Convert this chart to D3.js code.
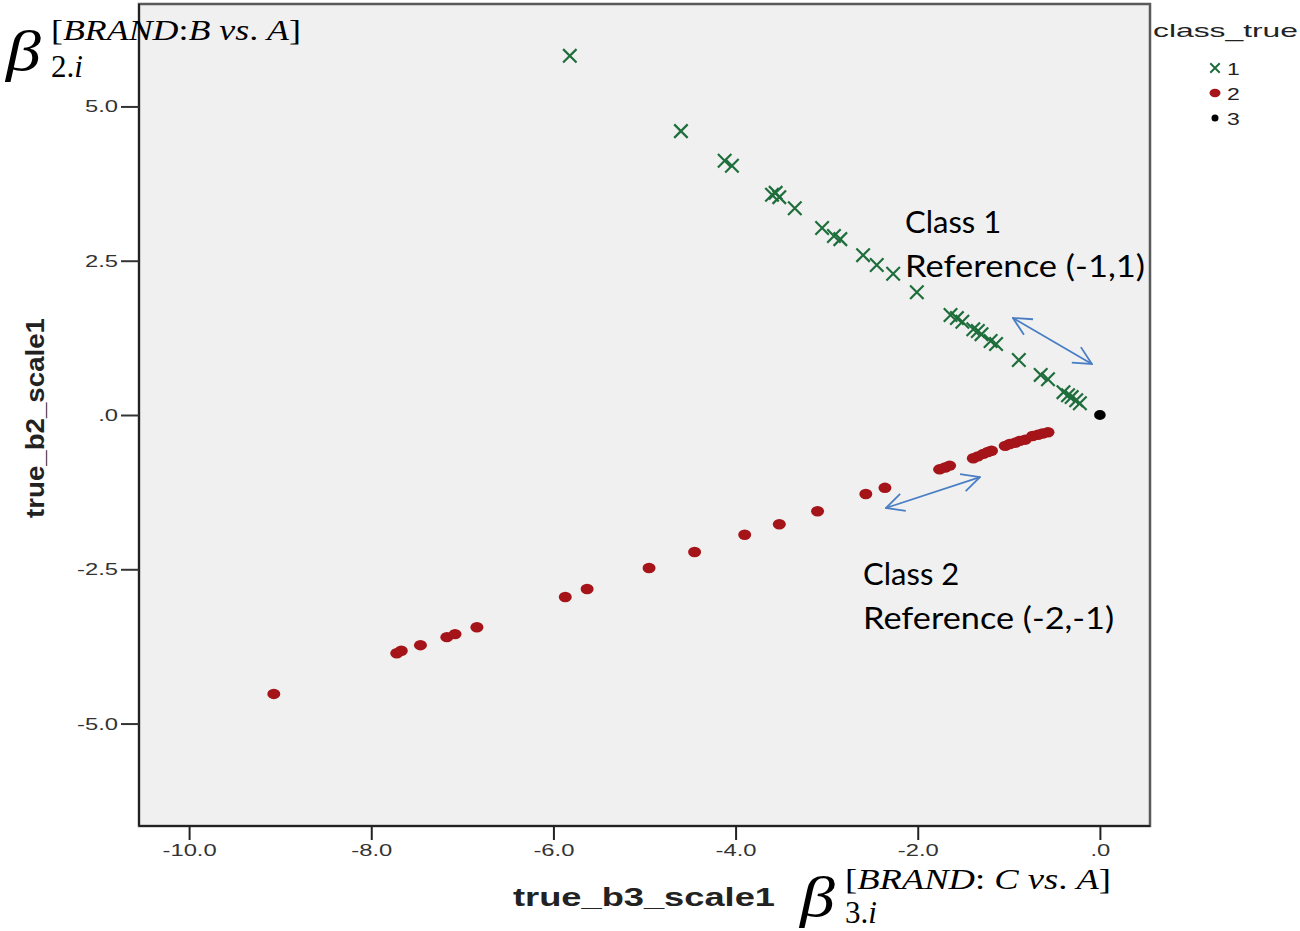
<!DOCTYPE html>
<html>
<head>
<meta charset="utf-8">
<script src="https://cdn.jsdelivr.net/npm/d3@7"></script>
<style>
  body { margin: 0; background: #fff; }
  svg { display: block; }
  .tick text { font-family: 'Liberation Sans', Arial, sans-serif; fill: #333; }
  .note { font-family: Lato, 'Open Sans', sans-serif; fill: #000; }
  .math { font-family: 'Liberation Serif', serif; fill: #000; }
</style>
</head>
<body>
<svg id="chart" width="1300" height="931"></svg>
<script>
// class 1 (green crosses)
const class1B3 = [-5.82, -4.60, -4.12, -4.04, -3.60, -3.56, -3.52, -3.35, -3.05, -2.92, -2.85,
  -2.60, -2.45, -2.27, -2.01, -1.64, -1.57, -1.51, -1.39, -1.34, -1.30, -1.20, -1.14,
  -0.89, -0.65, -0.57, -0.40, -0.35, -0.31, -0.26, -0.22];
const class1B2 = [5.82, 4.60, 4.12, 4.04, 3.57, 3.60, 3.53, 3.35, 3.03, 2.90, 2.85,
  2.59, 2.43, 2.29, 1.99, 1.62, 1.57, 1.51, 1.39, 1.36, 1.31, 1.20, 1.15,
  0.89, 0.65, 0.58, 0.37, 0.32, 0.29, 0.24, 0.19];

// class 2 (red dots)
const class2B3 = [-9.07, -7.72, -7.67, -7.46, -7.17, -7.08, -6.84, -5.87, -5.63, -4.95, -4.45,
  -3.90, -3.52, -3.10, -2.57, -2.36, -1.76, -1.70, -1.65, -1.39, -1.34, -1.28, -1.23, -1.19,
  -1.04, -0.99, -0.93, -0.88, -0.82, -0.74, -0.68, -0.63, -0.57];
const class2B2 = [-4.52, -3.86, -3.82, -3.73, -3.60, -3.55, -3.44, -2.95, -2.82, -2.48, -2.22,
  -1.94, -1.77, -1.56, -1.28, -1.18, -0.88, -0.85, -0.82, -0.70, -0.67, -0.63, -0.60, -0.58,
  -0.50, -0.47, -0.45, -0.42, -0.40, -0.34, -0.32, -0.30, -0.28];

// class 3 (black dot)
const class3B3 = [0];
const class3B2 = [0];

const xTicks = [-10, -8, -6, -4, -2, 0];
const yTicks = [-5, -2.5, 0, 2.5, 5];
const legendLabels = ['1', '2', '3'];

const svg = d3.select('#chart');
const margin = { top: 4, right: 150, bottom: 105, left: 139 };
const W = 1300, H = 931;
const width = W - margin.left - margin.right;
const height = H - margin.top - margin.bottom;

const x = d3.scaleLinear().domain([-10.55, 0.55]).range([0, width]);
const y = d3.scaleLinear().domain([-6.66, 6.66]).range([height, 0]);

const g = svg.append('g').attr('transform', `translate(${margin.left},${margin.top})`);

// plot frame
g.append('rect')
  .attr('width', width).attr('height', height)
  .attr('fill', '#f0f0f0')
  .attr('stroke', '#5a5a5a').attr('stroke-width', 2.5);
g.append('line').attr('x1', 0).attr('x2', 0).attr('y1', 0).attr('y2', height)
  .attr('stroke', '#222').attr('stroke-width', 2);
g.append('line').attr('x1', 0).attr('x2', width).attr('y1', height).attr('y2', height)
  .attr('stroke', '#222').attr('stroke-width', 2);

// stretch text horizontally around its anchor (SPSS wide text look)
function stretch(sel, sx) {
  sel.each(function() {
    const t = d3.select(this);
    const tx = +t.attr('x') || 0;
    t.attr('x', 0).attr('transform', `translate(${tx},0) scale(${sx},1)`);
  });
}

// SPSS style: ".0", "-2.5", plain hyphen
const fmt = d => d === 0 ? '.0' : d3.format('.1f')(d).replace('\u2212', '-');

const axisX = d3.axisBottom(x).tickValues(xTicks).tickFormat(fmt).tickSize(14).tickPadding(4);
const gx = g.append('g').attr('transform', `translate(0,${height})`).call(axisX);
gx.select('.domain').remove();
gx.selectAll('.tick line').attr('stroke', '#222').attr('stroke-width', 2);
gx.selectAll('.tick text').attr('font-size', 17);
stretch(gx.selectAll('.tick text'), 1.4);

const axisY = d3.axisLeft(y).tickValues(yTicks).tickFormat(fmt).tickSize(18).tickPadding(3);
const gy = g.append('g').call(axisY);
gy.select('.domain').remove();
gy.selectAll('.tick line').attr('stroke', '#333').attr('stroke-width', 2);
gy.selectAll('.tick text').attr('font-size', 17);
stretch(gy.selectAll('.tick text'), 1.4);

// axis titles
svg.append('text')
  .attr('x', 513).attr('y', 906)
  .attr('font-family', "'Liberation Sans', Arial, sans-serif")
  .attr('font-weight', 'bold').attr('font-size', 25).attr('fill', '#222')
  .attr('textLength', 262).attr('lengthAdjust', 'spacingAndGlyphs')
  .text('true_b3_scale1');

svg.append('text')
  .attr('transform', 'translate(44,518) rotate(-90)')
  .attr('font-family', "'Liberation Sans', Arial, sans-serif")
  .attr('font-weight', 'bold').attr('font-size', 25).attr('fill', '#222')
  .attr('textLength', 200).attr('lengthAdjust', 'spacingAndGlyphs')
  .text('true_b2_scale1');

// points
const green = '#1e6e3c', red = '#a51419';
const pts1 = class1B3.map((v, i) => ({ b3: v, b2: class1B2[i] }));
const pts2 = class2B3.map((v, i) => ({ b3: v, b2: class2B2[i] }));
const pts3 = class3B3.map((v, i) => ({ b3: v, b2: class3B2[i] }));

const cross = d3.symbol().type(d3.symbolTimes).size(120);

g.append('g').selectAll('path')
  .data(pts1)
  .join('path')
  .attr('d', cross)
  .attr('transform', d => `translate(${x(d.b3)},${y(d.b2)})`)
  .attr('fill', 'none')
  .attr('stroke', green)
  .attr('stroke-width', 2.2);

g.append('g').selectAll('ellipse')
  .data(pts2)
  .join('ellipse')
  .attr('cx', d => x(d.b3))
  .attr('cy', d => y(d.b2))
  .attr('rx', 6.5)
  .attr('ry', 5.2)
  .attr('fill', red);

g.append('g').selectAll('ellipse')
  .data(pts3)
  .join('ellipse')
  .attr('cx', d => x(d.b3))
  .attr('cy', d => y(d.b2))
  .attr('rx', 5.8)
  .attr('ry', 5)
  .attr('fill', '#000');

// legend
const lg = svg.append('g').attr('transform', 'translate(1153,0)');
lg.append('text').attr('x', 0).attr('y', 37)
  .attr('font-family', "'Liberation Sans', Arial, sans-serif")
  .attr('font-size', 19).attr('fill', '#222')
  .attr('textLength', 145).attr('lengthAdjust', 'spacingAndGlyphs')
  .text('class_true');

const items = lg.selectAll('g.item')
  .data(legendLabels)
  .join('g')
  .attr('class', 'item')
  .attr('transform', (d, i) => `translate(0,${68 + i * 25})`);

items.each(function(d, i) {
  const it = d3.select(this);
  if (i === 0) {
    it.append('path').attr('d', d3.symbol().type(d3.symbolTimes).size(60))
      .attr('transform', 'translate(62,0)')
      .attr('fill', 'none').attr('stroke', green).attr('stroke-width', 2);
  } else if (i === 1) {
    it.append('ellipse').attr('cx', 62).attr('cy', 0).attr('rx', 5.5).attr('ry', 4.2).attr('fill', red);
  } else {
    it.append('circle').attr('cx', 62).attr('cy', 0).attr('r', 3.5).attr('fill', '#000');
  }
  const tx = it.append('text').attr('x', 74).attr('y', 7)
    .attr('font-family', "'Liberation Sans', Arial, sans-serif")
    .attr('font-size', 17).attr('fill', '#222')
    .text(d);
  stretch(tx, 1.35);
});

// annotations
const notes = [
  { text: 'Class 1', b3: -2.14, b2: 2.95 },
  { text: 'Reference (-1,1)', b3: -2.14, b2: 2.23, len: 240 },
  { text: 'Class 2', b3: -2.60, b2: -2.76 },
  { text: 'Reference (-2,-1)', b3: -2.60, b2: -3.47, len: 251 }
];
g.selectAll('text.note')
  .data(notes)
  .join('text')
  .attr('class', 'note')
  .attr('x', d => x(d.b3))
  .attr('y', d => y(d.b2))
  .attr('font-size', 31)
  .each(function(d) {
    if (d.len) d3.select(this).attr('textLength', d.len).attr('lengthAdjust', 'spacingAndGlyphs');
  })
  .text(d => d.text);

// double-headed arrows
const blue = '#4a7ec4';
svg.append('defs').append('marker')
  .attr('id', 'head')
  .attr('viewBox', '0 -10 20 20')
  .attr('refX', 19).attr('refY', 0)
  .attr('markerWidth', 20).attr('markerHeight', 20)
  .attr('markerUnits', 'userSpaceOnUse')
  .attr('orient', 'auto-start-reverse')
  .append('path')
  .attr('d', 'M1,-9L19,0L1,9')
  .attr('fill', 'none').attr('stroke', blue).attr('stroke-width', 1.8);

const arrows = [
  { from: [-0.955, 1.572], to: [-0.088, 0.827] },
  { from: [-2.35, -1.507], to: [-1.317, -1.005] }
];
g.selectAll('line.arrow')
  .data(arrows)
  .join('line')
  .attr('class', 'arrow')
  .attr('x1', d => x(d.from[0])).attr('y1', d => y(d.from[1]))
  .attr('x2', d => x(d.to[0])).attr('y2', d => y(d.to[1]))
  .attr('stroke', blue).attr('stroke-width', 1.8)
  .attr('marker-start', 'url(#head)')
  .attr('marker-end', 'url(#head)');

// beta labels (math style: brackets and digits upright, letters italic)
function beta(px, py, supParts, subParts, supLen, supY) {
  const b = svg.append('g').attr('transform', `translate(${px},${py})`);
  b.append('text').attr('class', 'math').attr('x', 0).attr('y', 0)
    .attr('transform', 'scale(1.25,1)')
    .attr('font-size', 56).attr('font-style', 'italic').text('β');
  const sup = b.append('text').attr('class', 'math').attr('x', 45).attr('y', supY)
    .attr('font-size', 30)
    .attr('textLength', supLen).attr('lengthAdjust', 'spacingAndGlyphs');
  supParts.forEach(([t, it]) => sup.append('tspan').attr('font-style', it ? 'italic' : 'normal').text(t));
  const sub = b.append('text').attr('class', 'math').attr('x', 45).attr('y', 7)
    .attr('font-size', 31);
  subParts.forEach(([t, it]) => sub.append('tspan').attr('font-style', it ? 'italic' : 'normal').text(t));
}
beta(6, 70,
  [['[', 0], ['BRAND', 1], [':', 0], ['B vs', 1], ['. ', 0], ['A', 1], [']', 0]],
  [['2.', 0], ['i', 1]], 250, -30);
beta(800, 916,
  [['[', 0], ['BRAND', 1], [': ', 0], ['C vs', 1], ['. ', 0], ['A', 1], [']', 0]],
  [['3.', 0], ['i', 1]], 266, -27);
</script>
</body>
</html>
